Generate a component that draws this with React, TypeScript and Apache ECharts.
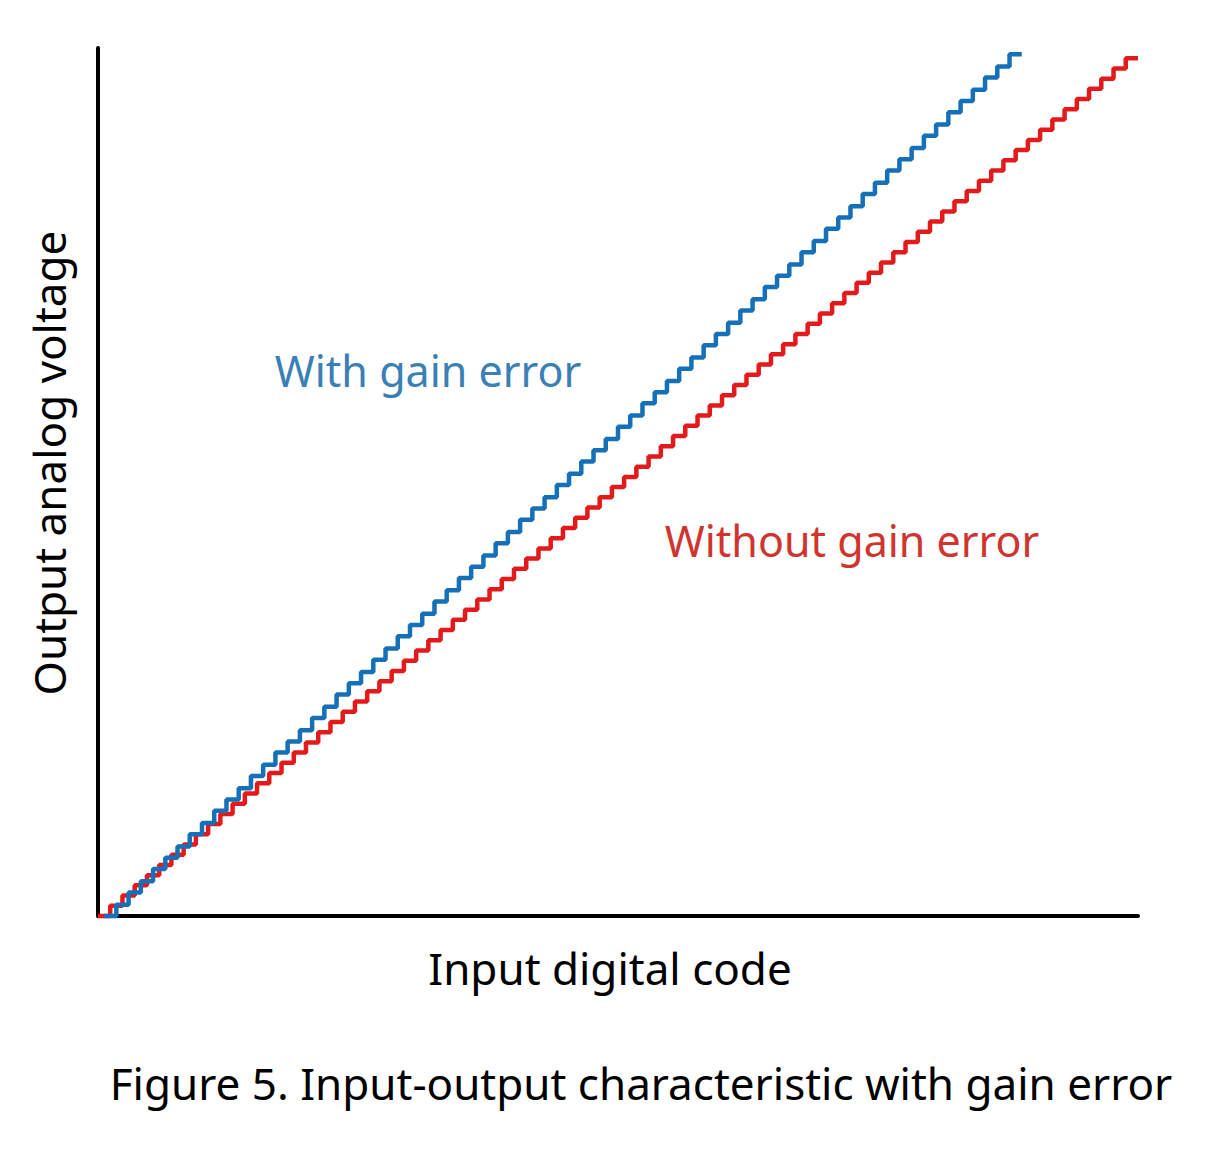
import { useEffect, useRef } from 'react'
import * as echarts from 'echarts'

// output level (in LSB) for each input code
const idealCodes = [
  0, 1, 2, 3, 4, 5, 6, 7, 8, 9, 10, 11, 12, 13, 14, 15, 16, 17, 18, 19, 20,
  21, 22, 23, 24, 25, 26, 27, 28, 29, 30, 31, 32, 33, 34, 35, 36, 37, 38, 39,
  40, 41, 42, 43, 44, 45, 46, 47, 48, 49, 50, 51, 52, 53, 54, 55, 56, 57, 58,
  59, 60, 61, 62, 63, 64, 65, 66, 67, 68, 69, 70, 71, 72, 73, 74, 75, 76, 77,
  78, 79, 80, 81, 82, 83, 84
]
const idealLevels = [
  0, 1, 2, 3, 4, 5, 6, 7, 8, 9, 10, 11, 12, 13, 14, 15, 16, 17, 18, 19, 20,
  21, 22, 23, 24, 25, 26, 27, 28, 29, 30, 31, 32, 33, 34, 35, 36, 37, 38, 39,
  40, 41, 42, 43, 44, 45, 46, 47, 48, 49, 50, 51, 52, 53, 54, 55, 56, 57, 58,
  59, 60, 61, 62, 63, 64, 65, 66, 67, 68, 69, 70, 71, 72, 73, 74, 75, 76, 77,
  78, 79, 80, 81, 82, 83, 84
]
const gainCodes = [
  0.5, 1.5, 2.5, 3.5, 4.5, 5.5, 6.5, 7.5, 8.5, 9.5, 10.5, 11.5, 12.5, 13.5,
  14.5, 15.5, 16.5, 17.5, 18.5, 19.5, 20.5, 21.5, 22.5, 23.5, 24.5, 25.5, 26.5,
  27.5, 28.5, 29.5, 30.5, 31.5, 32.5, 33.5, 34.5, 35.5, 36.5, 37.5, 38.5, 39.5,
  40.5, 41.5, 42.5, 43.5, 44.5, 45.5, 46.5, 47.5, 48.5, 49.5, 50.5, 51.5, 52.5,
  53.5, 54.5, 55.5, 56.5, 57.5, 58.5, 59.5, 60.5, 61.5, 62.5, 63.5, 64.5, 65.5,
  66.5, 67.5, 68.5, 69.5, 70.5, 71.5, 72.5, 73.5, 74.5
]
const gainLevels = [
  0, 1.1, 2.3, 3.4, 4.6, 5.7, 6.8, 8.0, 9.1, 10.3, 11.4, 12.5, 13.7, 14.8,
  16.0, 17.1, 18.2, 19.4, 20.5, 21.7, 22.8, 23.9, 25.1, 26.2, 27.4, 28.5, 29.6,
  30.8, 31.9, 33.1, 34.2, 35.3, 36.5, 37.6, 38.8, 39.9, 41.0, 42.2, 43.3, 44.5,
  45.6, 46.7, 47.9, 49.0, 50.2, 51.3, 52.4, 53.6, 54.7, 55.9, 57.0, 58.1, 59.3,
  60.4, 61.6, 62.7, 63.8, 65.0, 66.1, 67.3, 68.4, 69.5, 70.7, 71.8, 73.0, 74.1,
  75.2, 76.4, 77.5, 78.7, 79.8, 80.9, 82.1, 83.2, 84.4
]
const codeMax = 85
const levelMax = 85

const xName = 'Input digital code'
const yName = 'Output analog voltage'
const gainLabel = 'With gain error'
const idealLabel = 'Without gain error'
const caption = 'Figure 5. Input-output characteristic with gain error'

const FONT = '"Noto Sans", "Open Sans", sans-serif'

// step 'end' needs one extra point to draw the last tread
function stairs(codes: number[], levels: number[]) {
  const pts = codes.map((c, i) => [c, levels[i]])
  pts.push([codes[codes.length - 1] + 1, levels[levels.length - 1]])
  return pts
}

export default function App() {
  const chartRef = useRef<HTMLDivElement>(null)

  useEffect(() => {
    if (!chartRef.current) return
    const chart = echarts.init(chartRef.current, undefined, { renderer: 'svg' })

    const axisCommon = {
      type: 'value' as const,
      min: 0,
      axisLine: { show: true, onZero: false, lineStyle: { color: '#000', width: 4 } },
      axisTick: { show: false },
      axisLabel: { show: false },
      splitLine: { show: false }
    }

    const option: echarts.EChartsOption = {
      animation: false,
      backgroundColor: '#fff',
      grid: { left: 98, right: 84, top: 48, bottom: 243 },
      xAxis: { ...axisCommon, max: codeMax },
      yAxis: { ...axisCommon, max: levelMax },
      series: [
        {
          name: idealLabel,
          type: 'line',
          step: 'end',
          showSymbol: false,
          clip: false,
          lineStyle: { color: '#e31a1c', width: 4.5 },
          data: stairs(idealCodes, idealLevels)
        },
        {
          name: gainLabel,
          type: 'line',
          step: 'end',
          showSymbol: false,
          clip: false,
          lineStyle: { color: '#1570b8', width: 4.5 },
          data: stairs(gainCodes, gainLevels)
        }
      ],
      graphic: [
        {
          type: 'text',
          x: 428,
          y: 370,
          style: {
            text: gainLabel,
            fill: '#3a7fb5',
            font: `43px ${FONT}`,
            textAlign: 'center',
            textVerticalAlign: 'middle'
          }
        },
        {
          type: 'text',
          x: 852,
          y: 540,
          style: {
            text: idealLabel,
            fill: '#d0342f',
            font: `43px ${FONT}`,
            textAlign: 'center',
            textVerticalAlign: 'middle'
          }
        },
        {
          type: 'text',
          x: 610,
          y: 968,
          style: {
            text: xName,
            fill: '#000',
            font: `44px ${FONT}`,
            textAlign: 'center',
            textVerticalAlign: 'middle'
          }
        },
        {
          type: 'text',
          x: 49,
          y: 463,
          rotation: Math.PI / 2,
          style: {
            text: yName,
            fill: '#000',
            font: `44px ${FONT}`,
            textAlign: 'center',
            textVerticalAlign: 'middle'
          }
        },
        {
          type: 'text',
          x: 641,
          y: 1083,
          style: {
            text: caption,
            fill: '#000',
            font: `44px ${FONT}`,
            textAlign: 'center',
            textVerticalAlign: 'middle'
          }
        }
      ]
    }

    chart.setOption(option)
    return () => chart.dispose()
  }, [])

  return (
    <div
      ref={chartRef}
      style={{ position: 'absolute', left: 0, top: 0, width: 1222, height: 1159 }}
    />
  )
}
